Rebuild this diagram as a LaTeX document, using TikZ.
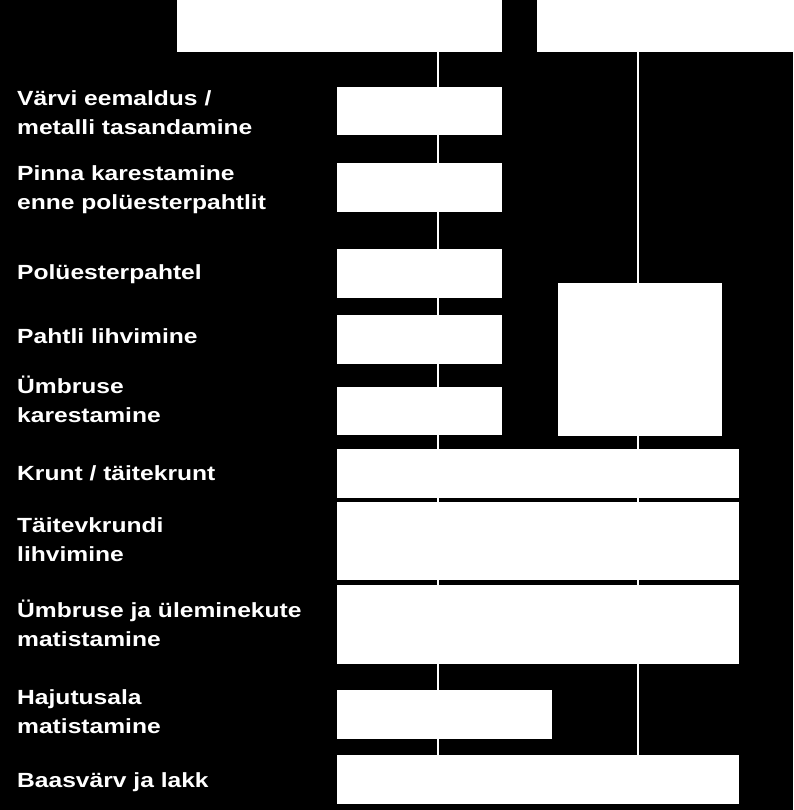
\documentclass[tikz,border=0pt]{standalone}
\usepackage{fontspec}
\setmainfont{Liberation Sans}
\newfontfamily\lblfont{Liberation Sans}[FakeStretch=1.2]
\usetikzlibrary{backgrounds}
\tikzset{
  box/.style={fill=white, draw=none, inner sep=0pt, outer sep=0pt, anchor=north west},
  lbl/.style={text=white, anchor=base west, align=left, inner sep=0pt,
    font=\lblfont\bfseries\fontsize{20.5}{29}\selectfont},
  vline/.style={draw=white, line width=2pt}
}
\begin{document}
\begin{tikzpicture}[x=1pt, y=-1pt]
\useasboundingbox (0,0) rectangle (793,810);
% header boxes
\node[box, minimum width=325pt, minimum height=52pt] (top1) at (177,0) {};
\node[box, minimum width=256pt, minimum height=52pt] (top2) at (537,0) {};
% step boxes
\node[box, minimum width=165pt, minimum height=48pt] (b1) at (337,87) {};
\node[box, minimum width=165pt, minimum height=49pt] (b2) at (337,163) {};
\node[box, minimum width=165pt, minimum height=49pt] (b3) at (337,249) {};
\node[box, minimum width=165pt, minimum height=49pt] (b4) at (337,315) {};
\node[box, minimum width=165pt, minimum height=48pt] (b5) at (337,387) {};
\node[box, minimum width=164pt, minimum height=153pt] (r1) at (558,283) {};
\node[box, minimum width=402pt, minimum height=49pt] (b6) at (337,449) {};
\node[box, minimum width=402pt, minimum height=78pt] (b7) at (337,502) {};
\node[box, minimum width=402pt, minimum height=79pt] (b8) at (337,585) {};
\node[box, minimum width=215pt, minimum height=49pt] (b9) at (337,690) {};
\node[box, minimum width=402pt, minimum height=49pt] (b10) at (337,755) {};
% labels (multi-line labels are placed by the baseline of their last line)
\node[lbl] (l1) at (17,135) {Värvi eemaldus /\\metalli tasandamine};
\node[lbl] (l2) at (17,210) {Pinna karestamine\\enne polüesterpahtlit};
\node[lbl] (l3) at (17,279) {Polüesterpahtel};
\node[lbl] (l4) at (17,343) {Pahtli lihvimine};
\node[lbl] (l5) at (17,422) {Ümbruse\\karestamine};
\node[lbl] (l6) at (17,480) {Krunt / täitekrunt};
\node[lbl] (l7) at (17,561) {Täitevkrundi\\lihvimine};
\node[lbl] (l8) at (17,646) {Ümbruse ja üleminekute\\matistamine};
\node[lbl] (l9) at (17,733) {Hajutusala\\matistamine};
\node[lbl] (l10) at (17,787) {Baasvärv ja lakk};
% guide columns
\coordinate (c1) at (438,0);
\coordinate (c2) at (638,0);
\begin{scope}[on background layer]
\fill[black] (0,0) rectangle (793,810);
\draw[vline] (c1 |- top1.south) -- (c1 |- b10.north);
\draw[vline] (c2 |- top2.south) -- (c2 |- b10.north);
\end{scope}
\end{tikzpicture}
\end{document}
